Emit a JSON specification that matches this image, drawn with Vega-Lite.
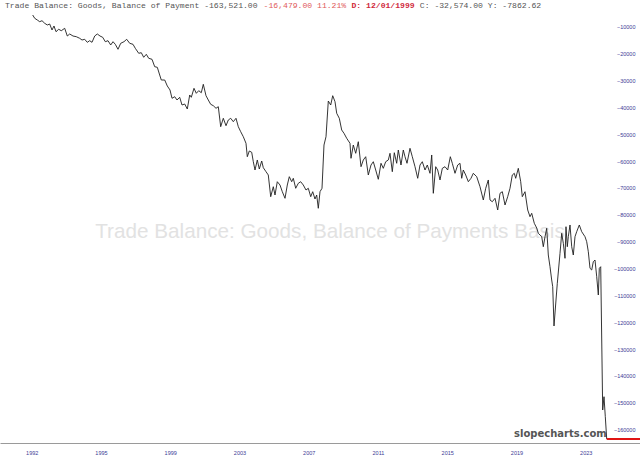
{
  "$schema": "https://vega.github.io/schema/vega-lite/v6.json",
  "width": 640,
  "height": 443,
  "autosize": "none",
  "padding": {"left": 0, "top": 0, "right": 0, "bottom": 21},
  "background": "white",
  "config": {"view": {"stroke": null}},
  "datasets": {
    "series": [
      {"t":1992.156,"v":-5590},{"t":1992.268,"v":-6820},{"t":1992.413,"v":-7450},{"t":1992.547,"v":-8080},{"t":1992.676,"v":-7710},{"t":1992.827,"v":-8680},{"t":1992.972,"v":-9310},{"t":1993.106,"v":-8940},{"t":1993.235,"v":-11170},{"t":1993.346,"v":-9680},{"t":1993.458,"v":-11810},{"t":1993.609,"v":-10910},{"t":1993.754,"v":-11440},{"t":1993.944,"v":-10540},{"t":1994.090,"v":-13410},{"t":1994.224,"v":-12660},{"t":1994.408,"v":-13410},{"t":1994.593,"v":-13670},{"t":1994.783,"v":-14270},{"t":1994.911,"v":-14900},{"t":1995.062,"v":-14640},{"t":1995.207,"v":-15760},{"t":1995.341,"v":-15160},{"t":1995.470,"v":-15760},{"t":1995.621,"v":-13410},{"t":1995.766,"v":-12660},{"t":1995.917,"v":-13410},{"t":1996.068,"v":-13890},{"t":1996.213,"v":-15530},{"t":1996.364,"v":-15160},{"t":1996.515,"v":-16760},{"t":1996.644,"v":-15530},{"t":1996.772,"v":-16500},{"t":1996.923,"v":-18360},{"t":1997.074,"v":-16130},{"t":1997.258,"v":-15530},{"t":1997.409,"v":-14640},{"t":1997.577,"v":-16130},{"t":1997.761,"v":-16500},{"t":1997.890,"v":-17990},{"t":1998.080,"v":-19850},{"t":1998.225,"v":-19630},{"t":1998.359,"v":-21340},{"t":1998.505,"v":-20230},{"t":1998.639,"v":-21710},{"t":1998.823,"v":-22090},{"t":1998.974,"v":-24840},{"t":1999.119,"v":-25070},{"t":1999.253,"v":-27940},{"t":1999.343,"v":-29800},{"t":1999.533,"v":-29800},{"t":1999.678,"v":-32030},{"t":1999.829,"v":-33520},{"t":1999.941,"v":-36610},{"t":2000.092,"v":-36020},{"t":2000.220,"v":-37250},{"t":2000.371,"v":-36240},{"t":2000.500,"v":-39110},{"t":2000.650,"v":-38740},{"t":2000.796,"v":-40600},{"t":2000.930,"v":-35380},{"t":2001.019,"v":-36240},{"t":2001.170,"v":-32890},{"t":2001.299,"v":-34750},{"t":2001.433,"v":-33780},{"t":2001.578,"v":-34530},{"t":2001.690,"v":-31400},{"t":2001.841,"v":-35640},{"t":2001.969,"v":-37250},{"t":2002.103,"v":-38850},{"t":2002.249,"v":-39370},{"t":2002.400,"v":-40340},{"t":2002.528,"v":-39740},{"t":2002.662,"v":-47190},{"t":2002.808,"v":-44060},{"t":2002.959,"v":-46820},{"t":2003.087,"v":-44700},{"t":2003.221,"v":-44060},{"t":2003.366,"v":-45330},{"t":2003.517,"v":-44060},{"t":2003.646,"v":-47190},{"t":2003.780,"v":-49050},{"t":2003.925,"v":-50920},{"t":2004.076,"v":-53370},{"t":2004.149,"v":-58370},{"t":2004.261,"v":-56240},{"t":2004.395,"v":-56730},{"t":2004.484,"v":-60230},{"t":2004.579,"v":-63320},{"t":2004.708,"v":-59590},{"t":2004.820,"v":-62950},{"t":2004.954,"v":-59970},{"t":2005.043,"v":-62460},{"t":2005.194,"v":-63950},{"t":2005.322,"v":-65180},{"t":2005.457,"v":-73260},{"t":2005.602,"v":-69540},{"t":2005.697,"v":-72630},{"t":2005.825,"v":-67680},{"t":2005.976,"v":-68910},{"t":2006.105,"v":-71400},{"t":2006.256,"v":-73860},{"t":2006.384,"v":-68910},{"t":2006.496,"v":-65810},{"t":2006.630,"v":-67680},{"t":2006.720,"v":-66410},{"t":2006.854,"v":-70130},{"t":2006.999,"v":-68270},{"t":2007.133,"v":-67680},{"t":2007.278,"v":-68910},{"t":2007.429,"v":-70770},{"t":2007.558,"v":-70130},{"t":2007.692,"v":-73260},{"t":2007.804,"v":-71400},{"t":2007.932,"v":-74120},{"t":2008.027,"v":-72630},{"t":2008.117,"v":-77580},{"t":2008.212,"v":-71400},{"t":2008.324,"v":-70130},{"t":2008.435,"v":-54010},{"t":2008.547,"v":-50920},{"t":2008.676,"v":-37620},{"t":2008.810,"v":-39110},{"t":2008.922,"v":-35640},{"t":2009.050,"v":-37880},{"t":2009.145,"v":-42200},{"t":2009.290,"v":-44060},{"t":2009.424,"v":-48420},{"t":2009.553,"v":-49650},{"t":2009.704,"v":-51510},{"t":2009.888,"v":-53370},{"t":2009.944,"v":-58960},{"t":2010.073,"v":-54010},{"t":2010.207,"v":-57100},{"t":2010.352,"v":-52780},{"t":2010.503,"v":-62090},{"t":2010.632,"v":-59590},{"t":2010.766,"v":-58370},{"t":2010.911,"v":-65180},{"t":2011.062,"v":-61460},{"t":2011.190,"v":-60230},{"t":2011.325,"v":-63320},{"t":2011.470,"v":-66780},{"t":2011.621,"v":-60820},{"t":2011.749,"v":-62690},{"t":2011.883,"v":-60230},{"t":2012.029,"v":-59590},{"t":2012.124,"v":-57100},{"t":2012.252,"v":-63950},{"t":2012.364,"v":-56880},{"t":2012.498,"v":-60820},{"t":2012.588,"v":-55870},{"t":2012.738,"v":-61460},{"t":2012.867,"v":-55870},{"t":2012.962,"v":-58370},{"t":2013.074,"v":-60820},{"t":2013.241,"v":-55240},{"t":2013.370,"v":-58370},{"t":2013.521,"v":-62090},{"t":2013.672,"v":-66410},{"t":2013.800,"v":-61460},{"t":2013.929,"v":-60230},{"t":2014.080,"v":-63320},{"t":2014.208,"v":-61460},{"t":2014.359,"v":-64550},{"t":2014.454,"v":-57730},{"t":2014.544,"v":-72000},{"t":2014.678,"v":-62090},{"t":2014.789,"v":-63320},{"t":2014.918,"v":-67040},{"t":2015.047,"v":-62690},{"t":2015.197,"v":-62090},{"t":2015.348,"v":-63320},{"t":2015.494,"v":-58370},{"t":2015.605,"v":-60820},{"t":2015.756,"v":-64550},{"t":2015.907,"v":-61460},{"t":2016.036,"v":-60820},{"t":2016.131,"v":-66410},{"t":2016.220,"v":-63320},{"t":2016.354,"v":-65180},{"t":2016.500,"v":-67680},{"t":2016.650,"v":-66410},{"t":2016.779,"v":-64550},{"t":2016.969,"v":-65810},{"t":2017.153,"v":-69540},{"t":2017.338,"v":-74490},{"t":2017.472,"v":-70130},{"t":2017.617,"v":-67040},{"t":2017.712,"v":-74490},{"t":2017.841,"v":-75130},{"t":2017.992,"v":-73860},{"t":2018.143,"v":-78220},{"t":2018.271,"v":-72000},{"t":2018.400,"v":-71400},{"t":2018.551,"v":-76350},{"t":2018.701,"v":-73260},{"t":2018.830,"v":-70130},{"t":2018.958,"v":-65180},{"t":2019.070,"v":-64550},{"t":2019.148,"v":-66410},{"t":2019.294,"v":-62690},{"t":2019.428,"v":-67680},{"t":2019.517,"v":-73260},{"t":2019.668,"v":-71400},{"t":2019.819,"v":-78220},{"t":2019.948,"v":-80710},{"t":2020.043,"v":-79450},{"t":2020.188,"v":-83170},{"t":2020.322,"v":-84920},{"t":2020.412,"v":-86900},{"t":2020.602,"v":-88160},{"t":2020.691,"v":-91890},{"t":2020.786,"v":-88160},{"t":2020.881,"v":-85030},{"t":2020.970,"v":-94980},{"t":2021.065,"v":-99340},{"t":2021.160,"v":-104290},{"t":2021.216,"v":-106790},{"t":2021.289,"v":-121420},{"t":2021.401,"v":-111740},{"t":2021.473,"v":-105520},{"t":2021.624,"v":-94340},{"t":2021.719,"v":-86900},{"t":2021.809,"v":-90620},{"t":2021.904,"v":-96210},{"t":2021.959,"v":-84440},{"t":2022.032,"v":-91890},{"t":2022.088,"v":-88160},{"t":2022.183,"v":-83800},{"t":2022.278,"v":-91890},{"t":2022.367,"v":-94980},{"t":2022.462,"v":-88160},{"t":2022.557,"v":-86300},{"t":2022.703,"v":-83800},{"t":2022.837,"v":-86300},{"t":2023.021,"v":-88160},{"t":2023.116,"v":-90020},{"t":2023.206,"v":-93750},{"t":2023.301,"v":-99930},{"t":2023.396,"v":-100560},{"t":2023.485,"v":-97470},{"t":2023.580,"v":-96840},{"t":2023.675,"v":-103060},{"t":2023.765,"v":-109880},{"t":2023.820,"v":-99930},{"t":2023.899,"v":-99340},{"t":2024.010,"v":-152710},{"t":2024.083,"v":-147760},{"t":2024.156,"v":-155200},{"t":2024.234,"v":-163521}
    ],
    "last": [{"t": 2024.234, "v": -163521}]
  },
  "layer": [
    {
      "data": {"values": [{"label": "Trade Balance: Goods, Balance of Payments Basis"}]},
      "mark": {"type": "text", "font": "Liberation Sans", "fontSize": 20.7, "color": "#e2e2e2", "align": "center", "baseline": "middle"},
      "encoding": {"x": {"datum": 2008.77}, "y": {"datum": -86410}, "text": {"field": "label"}}
    },
    {
      "data": {"name": "series"},
      "mark": {"type": "line", "color": "#1e1e1e", "strokeWidth": 0.9, "interpolate": "linear"},
      "encoding": {
        "x": {
          "field": "t", "type": "quantitative",
          "scale": {"domain": [1990.3285, 2026.0945], "nice": false, "zero": false},
          "axis": {
            "title": null,
            "values": [1992.1, 1995.97, 1999.84, 2003.71, 2007.58, 2011.45, 2015.32, 2019.19, 2023.06],
            "tickCount": 40,
            "labelExpr": "floor(datum.value)",
            "ticks": false, "tickSize": 0, "grid": false,
            "domain": true, "domainColor": "#9a9a9a", "domainWidth": 1,
            "labelFont": "Liberation Sans", "labelFontSize": 5.5, "labelColor": "#3c3c96",
            "labelPadding": 7, "labelFlush": false, "labelOverlap": false
          }
        },
        "y": {
          "field": "v", "type": "quantitative",
          "scale": {"domain": [-165000, 0], "nice": false, "zero": false},
          "axis": {
            "title": null, "orient": "right",
            "values": [-10000, -20000, -30000, -40000, -50000, -60000, -70000, -80000, -90000, -100000, -110000, -120000, -130000, -140000, -150000, -160000],
            "tickCount": 40,
            "format": "d",
            "ticks": false, "tickSize": 0, "grid": false, "domain": false,
            "labelAlign": "right", "labelBaseline": "middle", "labelPadding": -5,
            "labelFont": "Liberation Sans", "labelFontSize": 5.5, "labelColor": "#3c3c96",
            "labelOverlap": false, "labelFlush": false
          }
        }
      }
    },
    {
      "data": {"name": "last"},
      "mark": {"type": "rule", "color": "#e01414", "strokeWidth": 2},
      "encoding": {"x": {"field": "t", "type": "quantitative"}, "x2": {"datum": 2026.0945}, "y": {"field": "v", "type": "quantitative"}}
    },
    {
      "data": {"values": [{"label": "slopecharts.com"}]},
      "mark": {"type": "text", "font": "DejaVu Sans", "fontWeight": "bold", "fontSize": 10, "color": "#555555", "align": "right", "baseline": "middle"},
      "encoding": {"x": {"datum": 2024.234}, "y": {"datum": -161650}, "text": {"field": "label"}}
    },
    {
      "data": {"values": [{"label": "Trade Balance: Goods, Balance of Payment -163,521.00"}]},
      "mark": {"type": "text", "font": "Liberation Mono", "fontSize": 8.1, "color": "#555555", "align": "left", "baseline": "middle"},
      "encoding": {"x": {"datum": 1990.608}, "y": {"datum": -2420}, "text": {"field": "label"}}
    },
    {
      "data": {"values": [{"label": "-16,479.00 11.21%"}]},
      "mark": {"type": "text", "font": "Liberation Mono", "fontSize": 8.1, "color": "#e05a5a", "align": "left", "baseline": "middle"},
      "encoding": {"x": {"datum": 2005.060}, "y": {"datum": -2420}, "text": {"field": "label"}}
    },
    {
      "data": {"values": [{"label": "D: 12/01/1999"}]},
      "mark": {"type": "text", "font": "Liberation Mono", "fontSize": 8.1, "fontWeight": "bold", "color": "#d02a3c", "align": "left", "baseline": "middle"},
      "encoding": {"x": {"datum": 2009.972}, "y": {"datum": -2420}, "text": {"field": "label"}}
    },
    {
      "data": {"values": [{"label": "C: -32,574.00 Y:   -7862.62"}]},
      "mark": {"type": "text", "font": "Liberation Mono", "fontSize": 8.1, "color": "#555555", "align": "left", "baseline": "middle"},
      "encoding": {"x": {"datum": 2013.789}, "y": {"datum": -2420}, "text": {"field": "label"}}
    }
  ]
}
